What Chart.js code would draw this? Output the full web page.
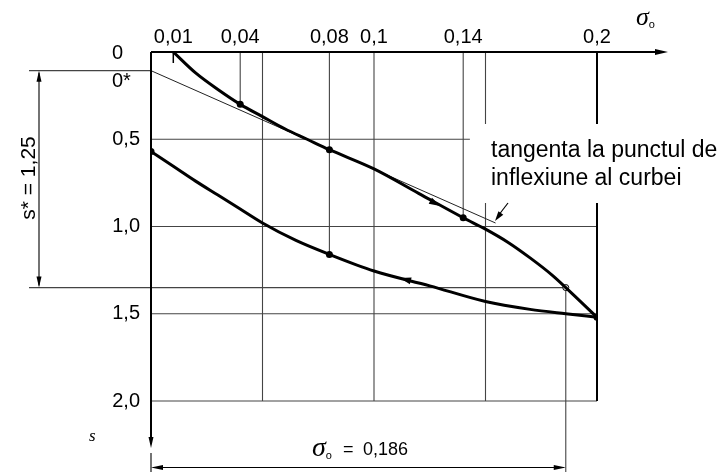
<!DOCTYPE html>
<html lang="ro">
<head>
  <meta charset="UTF-8">
  <title>Curba s - sigma0</title>
  <script src="https://cdn.jsdelivr.net/npm/chart.js"></script>
  <style>
    html, body { margin: 0; padding: 0; background: #fff; }
    canvas { display: block; }
  </style>
</head>
<body>
  <canvas id="chart" width="728" height="472"></canvas>

  <script>
    // curba de incarcare (sus)
    const sigmaUp = [0.01, 0.02, 0.03, 0.04, 0.05, 0.06, 0.07, 0.08, 0.1, 0.12, 0.14, 0.15, 0.16, 0.17, 0.18, 0.186, 0.2];
    const sUp     = [0, 0.12, 0.215, 0.30, 0.37, 0.44, 0.50, 0.56, 0.67, 0.81, 0.95, 1.015, 1.09, 1.18, 1.28, 1.35, 1.52];
    // curba de descarcare (jos)
    const sigmaDown = [0, 0.01, 0.02, 0.03, 0.04, 0.05, 0.065, 0.08, 0.1, 0.125, 0.15, 0.17, 0.186, 0.2];
    const sDown     = [0.57, 0.655, 0.74, 0.82, 0.90, 0.98, 1.08, 1.16, 1.255, 1.34, 1.43, 1.475, 1.50, 1.52];
    // puncte marcate
    const markUp = [0.04, 0.08, 0.14, 0.2];
    const markDown = [0, 0.08];
    const openMark = 0.186;
    // tangenta la punctul de inflexiune
    const tangentSigma = [0, 0.1545];
    const tangentS = [0.107, 0.98];
    // axe
    const xTicks = [0.01, 0.04, 0.08, 0.1, 0.14, 0.2];
    const yTicks = [0.5, 1.0, 1.5, 2.0];
    const gridX = [0.05, 0.1, 0.15];
    const gridY = [1.0, 1.5, 2.0];
    const sStar0 = 0.107, sStarEnd = 1.35, sigmaStar = 0.186;

    const FONT = "'Liberation Sans', Arial, sans-serif";
    const SERIF = "'Liberation Serif', 'Times New Roman', serif";

    const fmtX = v => String(v).replace('.', ',');
    const fmtY = v => v.toFixed(1).replace('.', ',');

    function arrowHead(ctx, x, y, ang, len, half) {
      ctx.save();
      ctx.translate(x, y);
      ctx.rotate(ang);
      ctx.beginPath();
      ctx.moveTo(0, 0);
      ctx.lineTo(-len, -half);
      ctx.lineTo(-len, half);
      ctx.closePath();
      ctx.fill();
      ctx.restore();
    }

    function line(ctx, x1, y1, x2, y2) {
      ctx.beginPath();
      ctx.moveTo(x1, y1);
      ctx.lineTo(x2, y2);
      ctx.stroke();
    }

    // sigma cu indice o
    function sigmaO(ctx, x, y, size) {
      ctx.font = 'italic ' + size + 'px ' + SERIF;
      ctx.fillText('\u03c3', x, y);
      const w = ctx.measureText('\u03c3').width;
      ctx.font = '11px ' + FONT;
      ctx.fillText('o', x + w, y + 3);
    }

    const decor = {
      id: 'decor',
      beforeDatasetsDraw(chart) {
        const { ctx, scales: { x, y } } = chart;
        const X = v => x.getPixelForValue(v), Y = v => y.getPixelForValue(v);
        ctx.save();
        ctx.strokeStyle = '#444';
        ctx.lineWidth = 1.1;
        // linii de grila
        line(ctx, X(0), Y(0.5), X(0.143), Y(0.5));
        gridY.forEach(v => line(ctx, X(0), Y(v), X(0.2), Y(v)));
        gridX.forEach(v => line(ctx, X(v), Y(0), X(v), Y(2)));
        line(ctx, X(0.04), Y(0), X(0.04), Y(0.30));
        line(ctx, X(0.14), Y(0), X(0.14), Y(0.95));
        line(ctx, X(0.08), Y(0), X(0.08), Y(1.16));
        line(ctx, X(sigmaStar), Y(sStarEnd), X(sigmaStar), 472);
        // linii ajutatoare s*
        line(ctx, 29, Y(sStar0), X(0), Y(sStar0));
        line(ctx, 29, Y(sStarEnd), X(sigmaStar), Y(sStarEnd));
        // marginea 0,2
        ctx.strokeStyle = '#000';
        ctx.lineWidth = 2;
        line(ctx, X(0.2), Y(0), X(0.2), Y(2));
        // fundal text
        ctx.fillStyle = '#fff';
        ctx.fillRect(470, 124, 258, 79);
        ctx.fillStyle = '#000';
        ctx.font = '23px ' + FONT;
        ctx.textBaseline = 'alphabetic';
        ctx.fillText('tangenta la punctul de', 491, 157);
        ctx.fillText('inflexiune al curbei', 491, 185);
        ctx.restore();
      },
      afterDatasetsDraw(chart) {
        const { ctx, scales: { x, y } } = chart;
        const X = v => x.getPixelForValue(v), Y = v => y.getPixelForValue(v);
        ctx.save();
        ctx.strokeStyle = '#000';
        ctx.fillStyle = '#000';
        // axa sigma0 (sus)
        ctx.lineWidth = 2;
        line(ctx, X(0), Y(0), 660, Y(0));
        arrowHead(ctx, 668, Y(0), 0, 13, 3);
        // axa s (stanga)
        line(ctx, X(0), Y(0), X(0), 440);
        arrowHead(ctx, X(0), 448, Math.PI / 2, 11, 2.5);
        ctx.lineWidth = 1.1;
        line(ctx, X(0), 453, X(0), 472);
        // cota s*
        line(ctx, 39, Y(sStar0) + 2, 39, Y(sStarEnd) - 2);
        arrowHead(ctx, 39, Y(sStar0), -Math.PI / 2, 11, 2.5);
        arrowHead(ctx, 39, Y(sStarEnd), Math.PI / 2, 11, 2.5);
        // cota sigma0 = 0,186
        line(ctx, X(0) + 2, 467.5, X(sigmaStar) - 2, 467.5);
        arrowHead(ctx, X(0), 467.5, Math.PI, 12, 2.5);
        arrowHead(ctx, X(sigmaStar), 467.5, 0, 12, 2.5);
        // sageti pe curbe
        const dir = (a, b) => Math.atan2(Y(b[1]) - Y(a[1]), X(b[0]) - X(a[0]));
        arrowHead(ctx, X(0.1296), Y(0.883), dir([0.12, 0.81], [0.14, 0.95]), 11, 3.5);
        arrowHead(ctx, X(0.1117), Y(1.295), dir([0.125, 1.34], [0.1, 1.255]), 11, 3.5);
        // capat curba sus
        ctx.lineWidth = 1.5;
        line(ctx, X(0.01), Y(0) + 1, X(0.01), Y(0) + 11);
        // indicator tangenta
        ctx.lineWidth = 1.2;
        line(ctx, 508, 203, 498, 216);
        arrowHead(ctx, 495, 221, Math.atan2(18, -13), 10, 3);
        // etichete
        ctx.font = '20px ' + FONT;
        ctx.textAlign = 'left';
        ctx.textBaseline = 'middle';
        ctx.fillText('0', 112, Y(0) + 1);
        ctx.fillText('0*', 112, Y(sStar0) + 11);
        ctx.textBaseline = 'alphabetic';
        sigmaO(ctx, 636, 25, 26);
        // sigma0 = 0,186
        sigmaO(ctx, 312, 456, 28);
        ctx.font = '18px ' + FONT;
        ctx.fillText('=', 343, 455);
        ctx.fillText('0,186', 363, 455);
        // s
        ctx.font = 'italic 17px ' + SERIF;
        ctx.fillText('s', 89, 441);
        // s* = 1,25
        ctx.save();
        ctx.translate(35, 178);
        ctx.rotate(-Math.PI / 2);
        ctx.textAlign = 'center';
        ctx.font = '21px ' + FONT;
        ctx.fillText('s* = 1,25', 0, 0);
        ctx.restore();
        ctx.restore();
      }
    };

    const radiusFor = marks => c => (c.raw && marks.includes(c.raw.x)) ? 3.5 : 0;

    new Chart(document.getElementById('chart'), {
      type: 'scatter',
      data: {
        datasets: [
          {
            data: sigmaUp.map((v, i) => ({ x: v, y: sUp[i] })),
            showLine: true,
            borderColor: '#000',
            borderWidth: 3,
            cubicInterpolationMode: 'monotone',
            pointRadius: radiusFor(markUp),
            pointBackgroundColor: '#000',
            pointBorderWidth: 0
          },
          {
            data: sigmaDown.map((v, i) => ({ x: v, y: sDown[i] })),
            showLine: true,
            borderColor: '#000',
            borderWidth: 3,
            cubicInterpolationMode: 'monotone',
            pointRadius: radiusFor(markDown),
            pointBackgroundColor: '#000',
            pointBorderWidth: 0
          },
          {
            data: tangentSigma.map((v, i) => ({ x: v, y: tangentS[i] })),
            showLine: true,
            borderColor: '#222',
            borderWidth: 1,
            pointRadius: 0
          },
          {
            data: [{ x: openMark, y: sUp[sigmaUp.indexOf(openMark)] }],
            pointRadius: 3,
            pointBackgroundColor: '#fff',
            pointBorderColor: '#000',
            pointBorderWidth: 1
          }
        ]
      },
      options: {
        responsive: false,
        animation: false,
        devicePixelRatio: 1,
        layout: { padding: { left: 0, right: 131, top: 0, bottom: 71 } },
        plugins: { legend: { display: false }, tooltip: { enabled: false } },
        scales: {
          x: {
            type: 'linear',
            position: 'top',
            min: 0,
            max: 0.2,
            afterBuildTicks: s => { s.ticks = xTicks.map(v => ({ value: v })); },
            afterFit: s => { s.height = 52; },
            grid: { display: false, drawTicks: false },
            border: { display: false },
            ticks: {
              color: '#000',
              font: { family: FONT, size: 20 },
              padding: 3,
              maxRotation: 0,
              autoSkip: false,
              callback: v => fmtX(v)
            }
          },
          y: {
            type: 'linear',
            reverse: true,
            min: 0,
            max: 2,
            afterBuildTicks: s => { s.ticks = yTicks.map(v => ({ value: v })); },
            afterFit: s => { s.width = 151; },
            grid: { display: false, drawTicks: false },
            border: { display: false },
            ticks: {
              color: '#000',
              font: { family: FONT, size: 20 },
              padding: 11,
              autoSkip: false,
              callback: v => fmtY(v)
            }
          }
        }
      },
      plugins: [decor]
    });
  </script>
</body>
</html>
